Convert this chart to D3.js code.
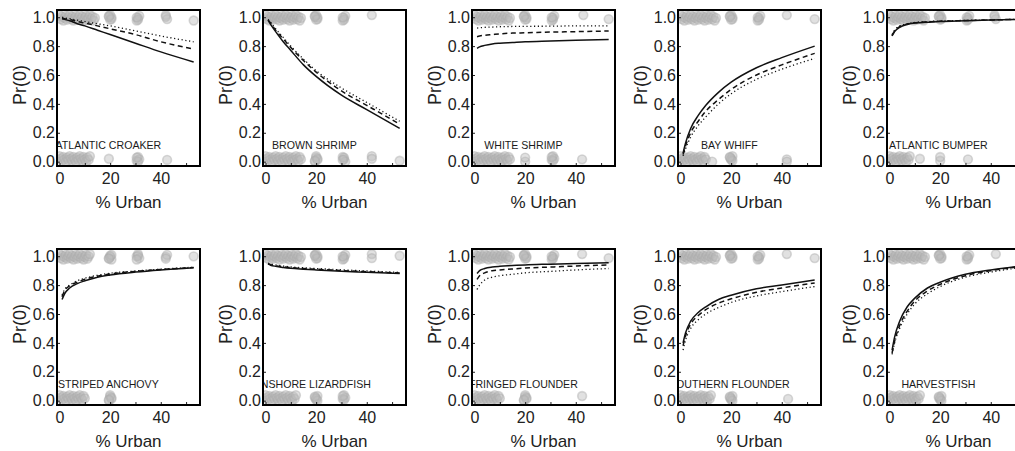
<!DOCTYPE html>
<html>
<head>
<meta charset="utf-8">
<script src="https://cdn.jsdelivr.net/npm/d3@7"></script>
<style>
  body { margin: 0; background: #fff; }
  svg { display: block; font-family: "Liberation Sans", Arial, Helvetica, sans-serif; }
</style>
</head>
<body>
<svg id="chart" width="1015" height="451"></svg>
<script>
// ---------------- data ----------------
const species = ["ATLANTIC CROAKER", "BROWN SHRIMP", "WHITE SHRIMP", "BAY WHIFF", "ATLANTIC BUMPER",
                 "STRIPED ANCHOVY", "INSHORE LIZARDFISH", "FRINGED FLOUNDER", "SOUTHERN FLOUNDER", "HARVESTFISH"];

const urbanX = [1, 2, 4, 7, 10, 15, 20, 30, 40, 53];

const solidLines = [
  [0.99, 0.985, 0.975, 0.955, 0.94, 0.91, 0.88, 0.82, 0.76, 0.69],
  [0.98, 0.95, 0.90, 0.83, 0.77, 0.67, 0.59, 0.46, 0.36, 0.23],
  [0.785, 0.795, 0.805, 0.815, 0.82, 0.825, 0.83, 0.835, 0.84, 0.845],
  [0.06, 0.13, 0.23, 0.32, 0.39, 0.48, 0.55, 0.65, 0.72, 0.80],
  [0.87, 0.90, 0.93, 0.95, 0.96, 0.965, 0.97, 0.975, 0.98, 0.985],
  [0.70, 0.74, 0.78, 0.81, 0.83, 0.855, 0.87, 0.89, 0.905, 0.92],
  [0.945, 0.938, 0.93, 0.922, 0.916, 0.91, 0.905, 0.896, 0.889, 0.88],
  [0.88, 0.90, 0.915, 0.925, 0.93, 0.935, 0.94, 0.945, 0.95, 0.955],
  [0.40, 0.47, 0.55, 0.61, 0.65, 0.70, 0.73, 0.775, 0.80, 0.835],
  [0.35, 0.44, 0.55, 0.65, 0.71, 0.78, 0.82, 0.875, 0.905, 0.935]
];
const dashedLines = [
  [0.995, 0.99, 0.985, 0.97, 0.96, 0.94, 0.92, 0.88, 0.83, 0.78],
  [0.98, 0.96, 0.91, 0.85, 0.79, 0.70, 0.62, 0.49, 0.39, 0.26],
  [0.865, 0.87, 0.875, 0.88, 0.885, 0.89, 0.892, 0.897, 0.90, 0.905],
  [0.05, 0.11, 0.20, 0.28, 0.35, 0.43, 0.50, 0.60, 0.67, 0.75],
  [0.875, 0.905, 0.935, 0.953, 0.962, 0.968, 0.972, 0.977, 0.981, 0.986],
  [0.72, 0.76, 0.795, 0.82, 0.84, 0.862, 0.877, 0.895, 0.908, 0.922],
  [0.948, 0.942, 0.934, 0.927, 0.921, 0.915, 0.91, 0.901, 0.893, 0.884],
  [0.84, 0.865, 0.885, 0.90, 0.905, 0.912, 0.918, 0.925, 0.932, 0.94],
  [0.38, 0.45, 0.53, 0.59, 0.63, 0.675, 0.705, 0.75, 0.78, 0.815],
  [0.33, 0.41, 0.52, 0.62, 0.69, 0.76, 0.805, 0.865, 0.90, 0.93]
];
const dottedLines = [
  [1.0, 0.995, 0.99, 0.98, 0.97, 0.955, 0.94, 0.905, 0.87, 0.83],
  [0.985, 0.965, 0.92, 0.86, 0.80, 0.71, 0.63, 0.51, 0.41, 0.28],
  [0.925, 0.927, 0.93, 0.932, 0.934, 0.936, 0.937, 0.938, 0.94, 0.94],
  [0.04, 0.09, 0.17, 0.25, 0.31, 0.40, 0.47, 0.57, 0.64, 0.715],
  [0.88, 0.91, 0.94, 0.955, 0.964, 0.97, 0.974, 0.978, 0.982, 0.987],
  [0.73, 0.77, 0.80, 0.83, 0.848, 0.868, 0.882, 0.898, 0.91, 0.924],
  [0.952, 0.946, 0.94, 0.932, 0.926, 0.92, 0.915, 0.906, 0.898, 0.888],
  [0.77, 0.80, 0.835, 0.855, 0.865, 0.875, 0.885, 0.895, 0.905, 0.915],
  [0.35, 0.42, 0.50, 0.56, 0.60, 0.645, 0.68, 0.725, 0.755, 0.79],
  [0.32, 0.40, 0.50, 0.60, 0.67, 0.74, 0.79, 0.855, 0.89, 0.925]
];

// observed % urban of sites (presence -> Pr(0)=0 row, absence -> Pr(0)=1 row)
const bar14 = [0, 0.5, 1, 1.5, 2, 2.5, 3, 3.5, 4, 4.5, 5, 5.5, 6, 6.5, 7, 7.5, 8, 8.5, 9, 9.5, 10, 10.5, 11, 11.5, 12, 12.5, 13, 13.5, 14];
const bar12 = [0, 0.5, 1, 1.5, 2, 2.5, 3, 3.5, 4, 4.5, 5, 5.5, 6, 6.5, 7, 7.5, 8, 8.5, 9, 9.5, 10, 10.5, 11, 11.5, 12];
const bar10 = [0, 0.5, 1, 1.5, 2, 2.5, 3, 3.5, 4, 4.5, 5, 5.5, 6, 6.5, 7, 7.5, 8, 8.5, 9, 9.5, 10];
const bar8 = [0, 0.5, 1, 1.5, 2, 2.5, 3, 3.5, 4, 4.5, 5, 5.5, 6, 6.5, 7, 7.5, 8];
const blob20 = [19.5, 20, 20.5, 20, 20.5, 19.5];
const blob31 = [30.5, 31, 31.5, 31, 30.5];

const absentX = [
  [...bar14, ...blob20, ...blob31, 42, 42.5, 42, 53],
  [...bar14, ...blob20, ...blob31, 42],
  [...bar14, ...blob20, ...blob31, 43, 53],
  [...bar14, ...blob20, ...blob31, 42, 53],
  [...bar14, ...blob20, ...blob31, 41.5, 42, 41.5, 52, 52.5],
  [...bar12, ...blob20, ...blob31, 42, 42.5, 42, 53],
  [...bar14, ...blob20, ...blob31, 42, 42, 53],
  [...bar14, ...blob20, ...blob31, 42.5, 53],
  [...bar14, ...blob20, ...blob31, 42, 53],
  [...bar14, ...blob20, ...blob31, 42, 53]
];
const presentX = [
  [...bar12, 19.5, ...blob31, 42.5],
  [...bar14, ...blob20, ...blob31, 42, 42, 53],
  [...bar14, 20, 20, ...blob31, 42.5],
  [...bar10, 12.5, ...blob20, 42, 42],
  [...bar8, 12, 20, 20, 31],
  [...bar10, ...blob20],
  [...bar12, ...blob20, ...blob31],
  [...bar10, ...blob20, 42.5],
  [...bar12, ...blob20, 42.5],
  [...bar12, ...blob20]
];

const yTicks = [0, 0.2, 0.4, 0.6, 0.8, 1.0];
const xTickLabels = [0, 20, 40];
const xMinorTicks = [0, 10, 20, 30, 40, 50];

// ---------------- layout ----------------
const colLeft = [57, 263, 472, 678, 887];
const rowTop = [10, 249];
const boxW = 143, boxH = 156;
const jitter = [0.0, 0.028, 0.012, 0.038, 0.02, 0.006, 0.032, 0.016];

const svg = d3.select("#chart");

species.forEach((name, i) => {
  const col = i % 5, row = Math.floor(i / 5);
  const L = colLeft[col], T = rowTop[row];
  const x = d3.scaleLinear().domain([-1, 55.5]).range([L, L + boxW]);
  const y = d3.scaleLinear().domain([-0.03, 1.05]).range([T + boxH, T]);

  const clipId = "clip" + i;
  svg.append("clipPath").attr("id", clipId)
    .append("rect").attr("x", L).attr("y", T).attr("width", boxW).attr("height", boxH);

  const g = svg.append("g").attr("clip-path", `url(#${clipId})`);

  // observations
  const pts = absentX[i].map((v, k) => ({x: v, y: 1.015 - jitter[k % jitter.length]}))
    .concat(presentX[i].map((v, k) => ({x: v, y: 0.0 + jitter[(k + 3) % jitter.length]})));
  g.selectAll("circle.obs").data(pts).enter().append("circle")
    .attr("class", "obs")
    .attr("cx", d => x(d.x)).attr("cy", d => y(d.y)).attr("r", 4.4)
    .attr("fill", "#bcbcbc").attr("fill-opacity", 0.45)
    .attr("stroke", "#aaaaaa").attr("stroke-opacity", 0.45).attr("stroke-width", 1.6);

  // label
  g.append("text").attr("x", x(19.3)).attr("y", y(0.085))
    .attr("text-anchor", "middle").attr("font-size", 10.6).attr("fill", "#1a1a1a").text(name);

  // lines
  const line = d3.line().x(d => x(d[0])).y(d => y(d[1])).curve(d3.curveMonotoneX);
  const styles = [
    {data: dottedLines[i], dash: "1.2,2.6", w: 1.3},
    {data: dashedLines[i], dash: "5,3.5", w: 1.5},
    {data: solidLines[i], dash: null, w: 1.5}
  ];
  styles.forEach(s => {
    g.append("path").datum(urbanX.map((u, k) => [u, s.data[k]]))
      .attr("d", line).attr("fill", "none").attr("stroke", "#111")
      .attr("stroke-width", s.w).attr("stroke-dasharray", s.dash);
  });

  // axes
  const ya = svg.append("g").attr("transform", `translate(${L},0)`)
    .call(d3.axisLeft(y).tickValues(yTicks).tickFormat(d3.format(".1f")).tickSizeInner(-3).tickSizeOuter(0).tickPadding(2));
  ya.select(".domain").remove();
  ya.selectAll("text").attr("font-size", 16).attr("fill", "#222").attr("font-family", null);
  ya.selectAll("line").attr("stroke", "#222");

  const xm = svg.append("g").attr("transform", `translate(0,${T + boxH})`)
    .call(d3.axisBottom(x).tickValues(xMinorTicks).tickSizeInner(-3).tickSizeOuter(0).tickFormat(""));
  xm.select(".domain").remove();
  xm.selectAll("line").attr("stroke", "#222");

  const xa = svg.append("g").attr("transform", `translate(0,${T + boxH})`)
    .call(d3.axisBottom(x).tickValues(xTickLabels).tickSize(0).tickPadding(7).tickFormat(d3.format("d")));
  xa.select(".domain").remove();
  xa.selectAll("text").attr("font-size", 16).attr("fill", "#222").attr("font-family", null);

  // box
  svg.append("rect").attr("x", L).attr("y", T).attr("width", boxW).attr("height", boxH)
    .attr("fill", "none").attr("stroke", "#000").attr("stroke-width", 2);

  // axis titles
  svg.append("text").attr("x", L + boxW / 2).attr("y", T + boxH + 42)
    .attr("text-anchor", "middle").attr("font-size", 17).attr("fill", "#222").text("% Urban");
  svg.append("text").attr("transform", `translate(${L - 31},${T + 75}) rotate(-90)`)
    .attr("text-anchor", "middle").attr("font-size", 18).attr("fill", "#222").text("Pr(0)");
});
</script>
</body>
</html>
